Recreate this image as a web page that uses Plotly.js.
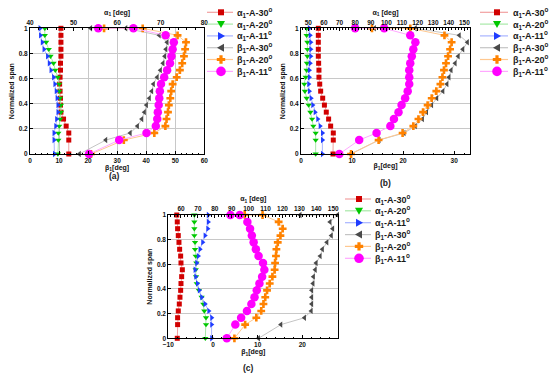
<!DOCTYPE html>
<html><head><meta charset="utf-8">
<script src="https://cdn.plot.ly/plotly-3.0.1.min.js"></script>
<style>html,body{margin:0;padding:0;background:#fff}#chart{width:550px;height:384px}</style>
</head><body><div id="chart"></div>
<script>
// Normalized span positions (bottom to top)
const span = [0, 0.111, 0.167, 0.222, 0.278, 0.333, 0.389, 0.444, 0.5, 0.556, 0.611, 0.667, 0.722, 0.778, 0.833, 0.889, 0.944, 1];
const spanBeta = [0, 0.111, 0.167, 0.222, 0.278, 0.333, 0.389, 0.444, 0.5, 0.556, 0.611, 0.667, 0.722, 0.778, 0.833, 0.889, 0.944, 1, 1];

const seriesNames = ['α<sub>1</sub>-A-30<sup>o</sup>', 'α<sub>1</sub>-A-20<sup>o</sup>', 'α<sub>1</sub>-A-11<sup>o</sup>',
                     'β<sub>1</sub>-A-30<sup>o</sup>', 'β<sub>1</sub>-A-20<sup>o</sup>', 'β<sub>1</sub>-A-11<sup>o</sup>'];
const panelLabels = ['(a)', '(b)', '(c)'];

// Panel (a)
const a_alpha30 = [48.9, 48.9, 48.9, 48.3, 47.7, 47.1, 47.0, 47.0, 46.9, 46.8, 46.9, 47.0, 47.0, 47.1, 47.1, 47.1, 47.1, 47.1];
const a_alpha20 = [46.4, 46.5, 46.5, 46.7, 46.9, 47.1, 47.1, 46.9, 46.7, 46.7, 46.4, 45.8, 45.4, 44.7, 44.3, 43.7, 43.4, 43.4];
const a_alpha11 = [45.6, 45.5, 45.5, 45.9, 46.1, 46.4, 46.4, 46.2, 46.0, 45.7, 45.4, 44.8, 44.4, 44.0, 43.2, 42.8, 42.4, 42.3];
const a_beta30 = [17.0, 26.1, 34.5, 37.0, 38.5, 39.4, 40.1, 41.1, 41.9, 42.5, 43.8, 44.9, 45.8, 46.4, 46.8, 47.2, 44.5, 33.0, 20.9];
const a_beta20 = [21.0, 32.3, 42.8, 46.6, 47.0, 47.5, 47.8, 48.3, 48.6, 49.1, 50.5, 51.6, 52.4, 53.0, 53.4, 53.7, 50.8, 38.8, 25.5];
const a_beta11 = [20.3, 30.7, 40.1, 43.3, 43.8, 44.0, 44.3, 44.5, 44.7, 45.1, 46.2, 47.2, 48.2, 48.7, 49.1, 49.5, 46.7, 35.6, 23.5];

// Panel (b)
const b_alpha30 = [65.8, 66.0, 66.0, 64.3, 63.0, 61.5, 60.3, 59.2, 57.9, 57.3, 56.8, 56.8, 56.6, 56.4, 56.4, 56.4, 56.4, 56.4];
const b_alpha20 = [54.7, 54.7, 54.7, 53.2, 52.4, 51.3, 50.2, 48.9, 47.8, 47.4, 48.3, 48.9, 49.1, 49.4, 49.4, 49.4, 48.9, 48.9];
const b_alpha11 = [59.0, 59.0, 59.0, 57.5, 56.0, 54.3, 52.8, 51.7, 50.6, 50.2, 50.6, 50.6, 51.1, 51.5, 51.5, 51.5, 51.1, 50.6];
const b_beta30 = [9.7, 15.3, 20.2, 22.4, 23.8, 24.6, 25.6, 26.6, 27.8, 28.6, 29.0, 29.4, 30.2, 30.8, 31.7, 32.6, 31.0, 22.4, 14.4];
const b_beta20 = [9.8, 15.2, 19.9, 22.0, 23.0, 23.9, 24.8, 25.6, 26.5, 27.3, 27.7, 28.0, 28.4, 28.8, 29.2, 29.5, 28.1, 21.4, 13.9];
const b_beta11 = [7.5, 11.4, 14.8, 17.5, 18.2, 19.1, 19.7, 20.4, 20.9, 21.2, 21.2, 21.2, 21.4, 21.7, 22.0, 22.4, 21.4, 16.3, 10.6];

// Panel (c)
const c_alpha30 = [57.8, 58.0, 58.0, 58.4, 59.0, 59.4, 59.8, 60.0, 60.4, 60.8, 60.0, 59.8, 59.2, 58.8, 58.4, 58.0, 57.8, 57.5];
const c_alpha20 = [74.4, 74.8, 74.8, 73.8, 73.2, 72.2, 70.6, 69.3, 68.9, 68.7, 69.1, 68.7, 68.3, 68.3, 67.9, 67.9, 67.9, 67.9];
const c_alpha11 = [78.1, 78.1, 78.1, 76.4, 74.2, 72.2, 70.8, 69.7, 68.7, 68.3, 69.3, 70.2, 71.2, 72.8, 74.2, 75.8, 76.1, 76.1];
const c_beta30 = [10.2, 15.2, 20.5, 22.0, 22.1, 22.1, 22.1, 22.4, 22.5, 22.9, 23.1, 24.0, 24.5, 25.5, 26.5, 26.8, 26.2, 27.9, 19.5];
const c_beta20 = [4.8, 7.2, 9.7, 10.8, 11.3, 11.7, 12.1, 12.7, 13.3, 13.8, 13.9, 14.1, 14.2, 14.5, 15.1, 15.6, 14.7, 11.1, 7.1];
const c_beta11 = [3.1, 5.0, 6.3, 7.6, 8.6, 9.3, 9.8, 10.4, 11.0, 11.5, 11.2, 10.2, 9.6, 9.1, 8.7, 8.3, 7.7, 6.0, 3.9];

// Axis ranges
const betaRanges = [[0, 60], [0, 33.1], [-10, 28.05]];
const alphaRanges = [[40, 80], [45.3, 153.6], [52.5, 153]];

// ---------- styles / layout geometry ----------
const W = 550, H = 384;
const fx = p => p / W, fy = p => 1 - p / H;
const styles = [
  {symbol: 'square', color: '#d10000', line: '#f2a0a0', size: 5},
  {symbol: 'triangle-down', color: '#00c800', line: '#a8e8a8', size: 5.5},
  {symbol: 'triangle-right', color: '#1f3cff', line: '#a8b4ff', size: 5.5},
  {symbol: 'triangle-left', color: '#4a4a4a', line: '#c4c4c4', size: 5.5},
  {symbol: 'cross', color: '#ff8200', line: '#ffc890', size: 6.5},
  {symbol: 'circle', color: '#ff00ff', line: '#ffa8ff', size: 8.5}
];
const panels = [
  {x0: 30, x1: 204.3, y0: 28.3, y1: 154, alpha: [a_alpha30, a_alpha20, a_alpha11], beta: [a_beta30, a_beta20, a_beta11],
   vgrid: true,
   leg: {lx0: 207, lx1: 233, mx: 221, tx: 235, rows: [12.3, 24.1, 35.9, 47.7, 59.5, 71.4]}, lab: [115, 176]},
  {x0: 301, x1: 470, y0: 28.3, y1: 154, alpha: [b_alpha30, b_alpha20, b_alpha11], beta: [b_beta30, b_beta20, b_beta11],
   vgrid: false,
   leg: {lx0: 480, lx1: 508, mx: 497, tx: 511, rows: [12.3, 24.1, 35.9, 47.7, 59.5, 71.4]}, lab: [385, 183]},
  {x0: 168.3, x1: 338.3, y0: 215, y1: 338.3, alpha: [c_alpha30, c_alpha20, c_alpha11], beta: [c_beta30, c_beta20, c_beta11],
   vgrid: false,
   leg: {lx0: 345, lx1: 371, mx: 359, tx: 373, rows: [199, 210.8, 222.7, 234.6, 246.4, 258.3]}, lab: [248, 368]}
];

const FAM = 'Liberation Sans, Arial, sans-serif';
const tickFont = {family: FAM, size: 6.5, color: '#111', weight: 'bold'};
const titleFont = {family: FAM, size: 7, color: '#111', weight: 'bold'};

const traces = [];
const layout = {
  width: W, height: H, margin: {l: 0, r: 0, t: 0, b: 0},
  paper_bgcolor: '#fff', plot_bgcolor: '#fff', showlegend: false,
  font: {family: FAM},
  shapes: [], annotations: []
};

panels.forEach((p, i) => {
  const bx = i * 2 + 1, ax = i * 2 + 2, yy = i + 1;
  const bName = 'xaxis' + (bx === 1 ? '' : bx), aName = 'xaxis' + ax, yName = 'yaxis' + (yy === 1 ? '' : yy);
  const bRef = 'x' + (bx === 1 ? '' : bx), aRef = 'x' + ax, yRef = 'y' + (yy === 1 ? '' : yy);
  const common = {showline: true, linecolor: '#000', linewidth: 1, ticks: 'inside', ticklen: 3, tickcolor: '#000',
                  zeroline: false, tickfont: tickFont};
  layout[bName] = Object.assign({}, common, {
    domain: [fx(p.x0), fx(p.x1)], range: betaRanges[i], anchor: yRef, side: 'bottom',
    dtick: 10, tick0: 0, showgrid: p.vgrid, gridcolor: '#c8c8c8', gridwidth: 1,
    minor: {ticks: 'inside', ticklen: 1.5, tickcolor: '#000', nticks: 5, showgrid: false},
    title: {text: 'β<sub>1</sub>[deg]', font: titleFont, standoff: 0}
  });
  layout[aName] = Object.assign({}, common, {
    overlaying: bRef, anchor: yRef, side: 'top', range: alphaRanges[i], dtick: 10, tick0: 0,
    showgrid: false, minor: {ticks: 'inside', ticklen: 1.5, tickcolor: '#000', nticks: 5, showgrid: false},
    title: {text: 'α<sub>1</sub> [deg]', font: titleFont, standoff: 2}
  });
  layout[yName] = Object.assign({}, common, {
    domain: [fy(p.y1), fy(p.y0)], range: [0, 1], anchor: bRef, dtick: 0.2, mirror: true,
    showgrid: true, gridcolor: '#c8c8c8', gridwidth: 1,
    title: {text: 'Normalized span', font: titleFont, standoff: 3}
  });
  p.alpha.forEach((vals, k) => {
    const s = styles[k];
    traces.push({type: 'scatter', mode: 'lines+markers', x: vals, y: span, xaxis: aRef, yaxis: yRef,
      name: seriesNames[k], cliponaxis: false,
      line: {color: s.line, width: 1}, marker: {symbol: s.symbol, color: s.color, size: s.size, line: {width: 0}}});
  });
  p.beta.forEach((vals, k) => {
    const s = styles[k + 3];
    traces.push({type: 'scatter', mode: 'lines+markers', x: vals, y: spanBeta, xaxis: bRef, yaxis: yRef,
      name: seriesNames[k + 3], cliponaxis: false,
      line: {color: s.line, width: 1}, marker: {symbol: s.symbol, color: s.color, size: s.size, line: {width: 0}}});
  });
  // compact legend drawn with shapes + text
  const L = p.leg;
  styles.forEach((s, k) => {
    const ry = L.rows[k];
    layout.shapes.push({type: 'line', xref: 'paper', yref: 'paper', x0: fx(L.lx0), x1: fx(L.lx1), y0: fy(ry), y1: fy(ry),
      line: {color: s.line, width: 1.2}});
    const base = {xref: 'paper', yref: 'paper', xsizemode: 'pixel', ysizemode: 'pixel', xanchor: fx(L.mx), yanchor: fy(ry),
      fillcolor: s.color, line: {width: 0}};
    let sh;
    if (s.symbol === 'square') sh = Object.assign({type: 'rect', x0: -3, x1: 3, y0: -3, y1: 3}, base);
    else if (s.symbol === 'circle') sh = Object.assign({type: 'circle', x0: -4.8, x1: 4.8, y0: -4.8, y1: 4.8}, base);
    else {
      const paths = {
        'triangle-down': 'M-4,3 L4,3 L0,-4 Z',
        'triangle-right': 'M-3,4 L-3,-4 L4,0 Z',
        'triangle-left': 'M3,4 L3,-4 L-4,0 Z',
        'cross': 'M-1.6,4.2 L1.6,4.2 L1.6,1.6 L4.2,1.6 L4.2,-1.6 L1.6,-1.6 L1.6,-4.2 L-1.6,-4.2 L-1.6,-1.6 L-4.2,-1.6 L-4.2,1.6 L-1.6,1.6 Z'
      };
      sh = Object.assign({type: 'path', path: paths[s.symbol]}, base);
    }
    layout.shapes.push(sh);
    layout.annotations.push({xref: 'paper', yref: 'paper', x: fx(L.tx), y: fy(ry), xanchor: 'left', yanchor: 'middle',
      showarrow: false, text: seriesNames[k], font: {family: FAM, size: 9, color: '#1a1a1a', weight: 'bold'}});
  });
  layout.annotations.push({xref: 'paper', yref: 'paper', x: fx(p.lab[0]), y: fy(p.lab[1]), xanchor: 'center', yanchor: 'middle',
    showarrow: false, text: panelLabels[i], font: {family: FAM, size: 8.5, color: '#1a1a1a', weight: 'bold'}});
});

Plotly.newPlot('chart', traces, layout, {staticPlot: true, displayModeBar: false});
</script>
</body></html>
